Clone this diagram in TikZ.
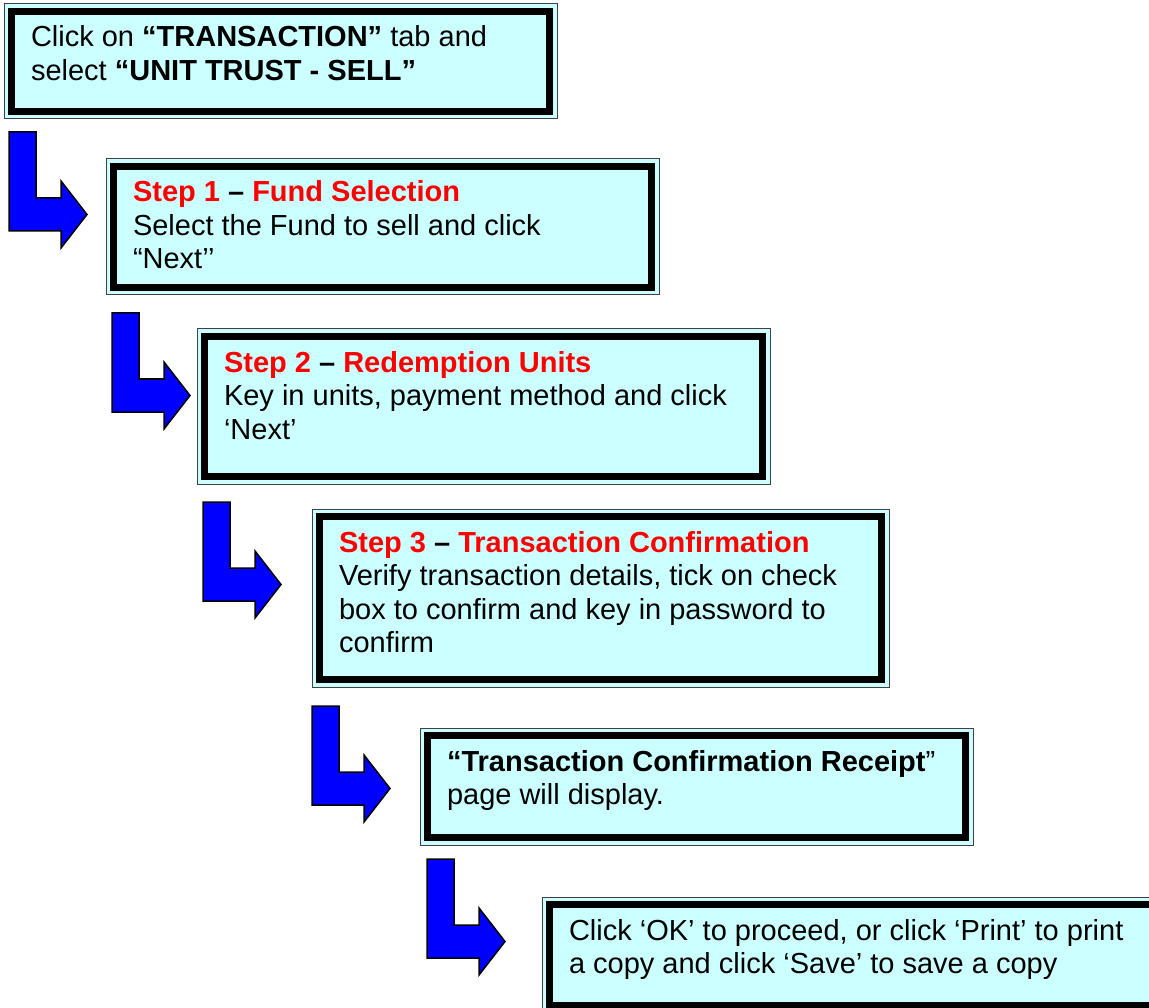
\documentclass[tikz,border=0pt]{standalone}
\usepackage{fontspec}
\setmainfont{Liberation Sans}
\definecolor{boxcyan}{HTML}{CCFFFF}
\definecolor{stepred}{HTML}{FF0000}
\definecolor{arrowblue}{HTML}{0000FF}
\newcommand{\stp}[1]{\textcolor{stepred}{\textbf{#1}}}
\begin{document}
\begin{tikzpicture}[x=1pt,y=-1pt,
  stepbox/.style={rectangle, draw=black!75, line width=1, fill=boxcyan,
    inner sep=0, outer sep=0, anchor=north west},
  % multi-line text nodes are placed by the baseline of their last line
  steptext/.style={anchor=base west, align=left, inner sep=0, outer sep=0,
    font=\fontsize{29}{33.5}\selectfont},
  framing/.style={line width=7, draw=black},
  bentarrow/.pic={
    \filldraw[fill=arrowblue, draw=black, line width=1.5, line join=miter]
      (0,0) -- (27,0) -- (27,66) -- (52,66) -- (52,49) -- (78,82.5)
      -- (52,116) -- (52,99) -- (0,99) -- cycle;
  }]
\clip (0,0) rectangle (1149,1008);
\fill[white] (0,0) rectangle (1149,1008);

% boxes
\node[stepbox, minimum width=553, minimum height=115] (b1) at (4,4) {};
\node[stepbox, minimum width=553, minimum height=136] (b2) at (106,159) {};
\node[stepbox, minimum width=573, minimum height=155] (b3) at (197,329) {};
\node[stepbox, minimum width=577, minimum height=178] (b4) at (312,509) {};
\node[stepbox, minimum width=553, minimum height=117] (b5) at (420,728) {};
\node[stepbox, minimum width=625, minimum height=116] (b6) at (542,897) {};

% heavy inner frames
\foreach \b in {b1,b2,b3,b4,b5,b6}
  \draw[framing] ([shift={(7.5,7.5)}]\b.north west) rectangle ([shift={(-7.5,-7.5)}]\b.south east);

% texts
\node[steptext] (t1) at (31,80.5)
  {Click on \textbf{“TRANSACTION”} tab and\\select \textbf{“UNIT TRUST - SELL”}};
\node[steptext] (t2) at (133,269)
  {\stp{Step 1} \textbf{–} \stp{Fund Selection}\\Select the Fund to sell and click\\“Next’’};
\node[steptext] (t3) at (224,439)
  {\stp{Step 2} \textbf{–} \stp{Redemption Units}\\Key in units, payment method and click\\‘Next’};
\node[steptext] (t4) at (339,652.5)
  {\stp{Step 3} \textbf{–} \stp{Transaction Confirmation}\\Verify transaction details, tick on check\\box to confirm and key in password to\\confirm};
\node[steptext] (t5) at (447,804.5)
  {\textbf{“Transaction Confirmation Receipt}”\\page will display.};
\node[steptext] (t6) at (569,973.5)
  {Click ‘OK’ to proceed, or click ‘Print’ to print\\a copy and click ‘Save’ to save a copy};

% bent arrows between the steps
\pic at (9,132) {bentarrow};
\pic at (112,313) {bentarrow};
\pic at (203,502) {bentarrow};
\pic at (312,706) {bentarrow};
\pic at (427,859) {bentarrow};
\end{tikzpicture}
\end{document}
